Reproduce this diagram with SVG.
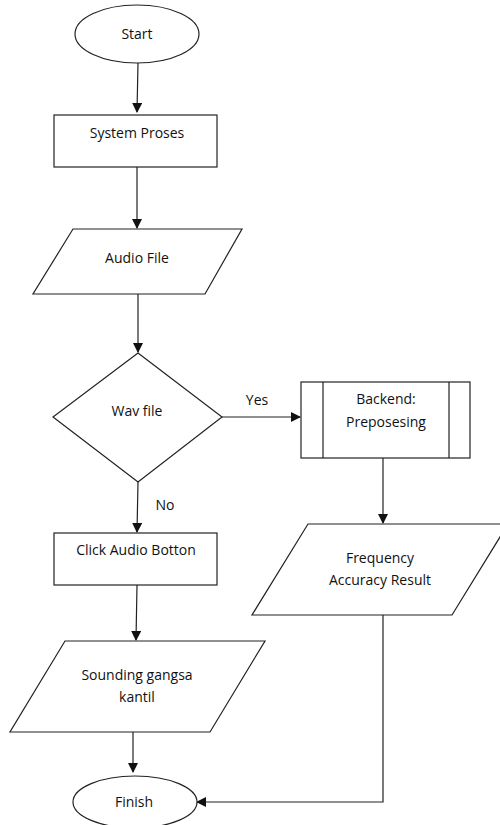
<svg xmlns="http://www.w3.org/2000/svg" width="500" height="825" viewBox="0 0 500 825">
<style>
.s{fill:#fff;stroke:#222;stroke-width:1.2}
.c{fill:none;stroke:#222;stroke-width:1.2}
text{font-family:"Open Sans","Noto Sans","Liberation Sans",sans-serif;font-size:14px;fill:#111;text-anchor:middle}
</style>
<defs>
<marker id="a" markerWidth="10" markerHeight="10" refX="9" refY="5" orient="auto" markerUnits="userSpaceOnUse">
<path d="M0,0 L10,5 L0,10 Z" fill="#111"/>
</marker>
</defs>
<rect width="500" height="825" fill="#fff"/>
<g id="connectors">
<path class="c" d="M138,63 L137,112" marker-end="url(#a)"/>
<path class="c" d="M137,167 L137,228" marker-end="url(#a)"/>
<path class="c" d="M138,294 L138,352" marker-end="url(#a)"/>
<path class="c" d="M222,417 L300,417" marker-end="url(#a)"/>
<path class="c" d="M383,458 L383,523" marker-end="url(#a)"/>
<path class="c" d="M138,482 L137,532" marker-end="url(#a)"/>
<path class="c" d="M137,585 L136,640" marker-end="url(#a)"/>
<path class="c" d="M133,732 L133,772" marker-end="url(#a)"/>
<path class="c" d="M383,615 L383,802 L197,802" marker-end="url(#a)"/>
<text x="257" y="405">Yes</text>
<text x="165" y="510">No</text>
</g>
<g id="start">
<ellipse class="s" cx="137" cy="34" rx="62" ry="29"/>
<text x="137" y="39">Start</text>
</g>
<g id="system">
<rect class="s" x="54" y="115" width="163" height="52"/>
<text x="137" y="138">System Proses</text>
</g>
<g id="audio">
<polygon class="s" points="73,229 242,229 205,294 33,294"/>
<text x="137" y="263">Audio File</text>
</g>
<g id="wav">
<polygon class="s" points="138,353 222,417 138,482 53,417"/>
<text x="137" y="416">Wav file</text>
</g>
<g id="backend">
<rect class="s" x="301" y="382" width="169" height="76"/>
<path class="c" d="M323,382 V458 M449,382 V458"/>
<text x="386" y="404">Backend:</text>
<text x="386" y="427">Preposesing</text>
</g>
<g id="click">
<rect class="s" x="54" y="533" width="163" height="52"/>
<text x="136" y="555">Click Audio Botton</text>
</g>
<g id="frequency">
<polygon class="s" points="308,524 508,524 452,615 252,615"/>
<text x="380" y="563">Frequency</text>
<text x="380" y="585">Accuracy Result</text>
</g>
<g id="sounding">
<polygon class="s" points="65,641 265,641 210,732 10,732"/>
<text x="137" y="680">Sounding gangsa</text>
<text x="137" y="702">kantil</text>
</g>
<g id="finish">
<ellipse class="s" cx="135" cy="802" rx="62" ry="26"/>
<text x="134" y="807">Finish</text>
</g>
</svg>
